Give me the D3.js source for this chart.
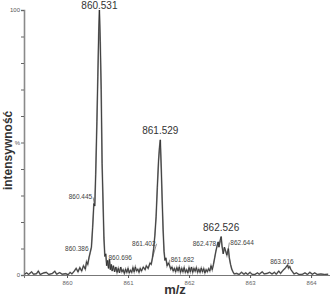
<!DOCTYPE html>
<html>
<head>
<meta charset="utf-8">
<script src="https://cdn.jsdelivr.net/npm/d3@7"></script>
<style>
  html, body { margin: 0; padding: 0; background: #fff; }
  svg { display: block; }
</style>
</head>
<body>
<div id="chart"></div>
<script>
// spectrum profile, m/z and relative intensity (%)
var mzValues = [
  859.30, 859.34, 859.37, 859.42, 859.45, 859.50, 859.53, 859.56, 859.62, 859.66,
  859.70, 859.76, 859.80, 859.83, 859.88, 859.92, 859.98, 860.02, 860.05, 860.08,
  860.12, 860.15, 860.18, 860.21, 860.24, 860.27, 860.30, 860.32, 860.34, 860.36,
  860.38, 860.40, 860.42, 860.44, 860.455, 860.47, 860.49, 860.505, 860.52, 860.531,
  860.545, 860.56, 860.575, 860.59, 860.605, 860.62, 860.635, 860.65, 860.665, 860.68,
  860.696, 860.71, 860.725, 860.74, 860.76, 860.78, 860.80, 860.82, 860.84, 860.86,
  860.88, 860.90, 860.92, 860.94, 860.96, 860.98, 861.00, 861.02, 861.04, 861.06,
  861.08, 861.10, 861.12, 861.14, 861.16, 861.18, 861.20, 861.22, 861.25, 861.28,
  861.30, 861.33, 861.36, 861.38, 861.40, 861.42, 861.44, 861.46, 861.48, 861.50,
  861.515, 861.529, 861.545, 861.56, 861.575, 861.59, 861.605, 861.62, 861.64, 861.66,
  861.682, 861.70, 861.72, 861.74, 861.76, 861.78, 861.80, 861.82, 861.84, 861.86,
  861.88, 861.90, 861.92, 861.94, 861.96, 861.98, 862.00, 862.02, 862.04, 862.06,
  862.08, 862.10, 862.12, 862.14, 862.16, 862.18, 862.20, 862.22, 862.24, 862.26,
  862.28, 862.30, 862.32, 862.34, 862.36, 862.38, 862.40, 862.42, 862.44, 862.46,
  862.478, 862.49, 862.51, 862.526, 862.54, 862.56, 862.58, 862.60, 862.62, 862.644,
  862.66, 862.68, 862.70, 862.72, 862.74, 862.78, 862.82, 862.86, 862.90, 862.93,
  862.96, 863.00, 863.03, 863.08, 863.12, 863.15, 863.20, 863.23, 863.28, 863.32,
  863.36, 863.40, 863.43, 863.47, 863.50, 863.54, 863.57, 863.59, 863.616, 863.63,
  863.65, 863.67, 863.69, 863.72, 863.76, 863.80, 863.86, 863.90, 863.94, 863.98,
  864.02, 864.06, 864.10, 864.16, 864.22, 864.28
]
var intensityValues = [
  0.3, 0.8, 0.2, 1.2, 0.3, 0.5, 1.5, 0.2, 0.8, 1.0,
  0.2, 0.6, 1.4, 0.3, 0.9, 0.3, 0.5, 0.1, 1.0, 0.4,
  1.5, 2.5, 1.2, 2.8, 1.5, 3.5, 2.2, 5.0, 4.0, 6.5,
  8.5, 10.5, 18, 27, 26, 38, 58, 75, 92, 100,
  88, 70, 42, 28, 14, 7, 8, 3.5, 5.5, 2.5,
  6, 2, 4, 1.5, 3.5, 1.2, 3.0, 1.0, 2.5, 0.8,
  3.0, 1.2, 2.0, 0.6, 2.2, 1.0, 2.5, 0.8, 1.8, 1.0,
  2.8, 1.2, 3.0, 1.5, 2.2, 1.0, 2.5, 1.5, 3.0, 2.0,
  3.5, 2.5, 4.5, 4.0, 6.5, 10, 15, 22, 33, 43,
  48, 51, 40, 28, 17, 9, 5.5, 6.5, 3.5, 4.5,
  3.5, 2.2, 3.0, 1.5, 2.5, 1.2, 2.8, 1.5, 3.0, 1.0,
  2.5, 1.2, 2.8, 1.0, 2.0, 0.8, 2.8, 1.2, 3.0, 1.0,
  2.5, 1.4, 2.8, 1.0, 2.2, 1.0, 2.6, 1.2, 2.4, 0.8,
  2.0, 1.2, 2.4, 1.5, 3.5, 2.0, 4.0, 6.5, 9, 11,
  12.5, 10.5, 13, 14.5, 11, 8, 10.5, 9, 7.5, 10,
  6.5, 4.0, 2.2, 1.2, 0.4, 0.6, 0.2, 1.0, 0.3, 0.8,
  0.2, 1.0, 0.3, 0.2, 0.8, 0.3, 1.2, 0.4, 0.6, 1.0,
  0.4, 1.0, 0.3, 1.5, 0.6, 1.8, 2.4, 3.0, 3.8, 2.6,
  3.2, 2.0, 1.4, 0.4, 0.8, 0.2, 0.3, 0.8, 0.2, 1.0,
  0.3, 0.8, 0.2, 0.4, 0.2, 0.3
]

// annotated peaks
var majorPeaks = ['860.531', '861.529', '862.526']
var majorMz = [860.531, 861.529, 862.526]
var majorIntensity = [100, 51, 14.5]

var minorPeaks = ['860.445', '860.386', '860.696', '861.402', '861.682', '862.478', '862.644', '863.616']
var minorMz = [860.445, 860.386, 860.696, 861.402, 861.682, 862.478, 862.644, 863.616]
var minorIntensity = [27, 8.5, 6, 6.5, 3.5, 12.5, 10, 3.8]

var xTicks = [860, 861, 862, 863, 864]
var yTicks = [0, 10, 20, 30, 40, 50, 60, 70, 80, 90, 100]
var yTickLabels = {0: '0', 50: '%', 100: '100'}

var width = 330
var height = 298
var margin = {top: 8, right: 0, bottom: 23, left: 24}
var font = 'Arial, "Liberation Sans", sans-serif'

var svg = d3.select('#chart').append('svg')
  .attr('width', width)
  .attr('height', height)

var x = d3.scaleLinear()
  .domain([859.295, 864.31])
  .range([margin.left, width - margin.right])

var y = d3.scaleLinear()
  .domain([0, 100])
  .range([height - margin.bottom, margin.top + 2])

// y axis
var yAxis = d3.axisLeft(y)
  .tickValues(yTicks)
  .tickSize(3)
  .tickFormat(function(d){ return yTickLabels[d] || '' })

var gy = svg.append('g')
  .attr('transform', 'translate(' + margin.left + ',0)')
  .call(yAxis)
gy.select('.domain').attr('stroke', '#8a8a8a').attr('stroke-width', 1.6)
gy.selectAll('.tick line').attr('stroke', '#666')
gy.selectAll('.tick text')
  .attr('font-family', font)
  .attr('font-size', 6)
  .attr('fill', '#555')
  .attr('x', -4)

// x axis
var xAxis = d3.axisBottom(x)
  .tickValues(xTicks)
  .tickSize(3)
  .tickFormat(d3.format('d'))

var gx = svg.append('g')
  .attr('transform', 'translate(0,' + (height - margin.bottom) + ')')
  .call(xAxis)
gx.select('.domain').attr('stroke', '#777').attr('stroke-width', 1)
gx.selectAll('.tick line').attr('stroke', '#555')
gx.selectAll('.tick text')
  .attr('font-family', font)
  .attr('font-size', 6)
  .attr('fill', '#666')
  .attr('y', 6)

// axis titles
svg.append('text')
  .attr('x', x(861.77))
  .attr('y', height - 4)
  .attr('text-anchor', 'middle')
  .attr('font-family', font)
  .attr('font-weight', 'bold')
  .attr('font-size', 13)
  .attr('fill', '#333')
  .text('m/z')

svg.append('text')
  .attr('transform', 'translate(12,' + y(47) + ') rotate(-90)')
  .attr('text-anchor', 'middle')
  .attr('font-family', font)
  .attr('font-weight', 'bold')
  .attr('font-size', 12)
  .attr('fill', '#333')
  .text('intensywność')

// spectrum trace
var points = mzValues.map(function(m, i){ return [m, intensityValues[i]] })

var line = d3.line()
  .x(function(d){ return x(d[0]) })
  .y(function(d){ return y(d[1]) })

svg.append('path')
  .datum(points)
  .attr('d', line)
  .attr('fill', 'none')
  .attr('stroke', '#8a8a8a')
  .attr('stroke-width', 1.6)

svg.append('path')
  .datum(points)
  .attr('d', line)
  .attr('fill', 'none')
  .attr('stroke', '#222')
  .attr('stroke-width', 0.7)

// major labels, centred above the peak
var majorGap = [1, 6, 6]
for(var i = 0; i < majorPeaks.length; i++){
  svg.append('text')
    .attr('x', x(majorMz[i]))
    .attr('y', y(majorIntensity[i]) - majorGap[i])
    .attr('text-anchor', 'middle')
    .attr('font-family', font)
    .attr('font-size', 10)
    .attr('fill', '#333')
    .text(majorPeaks[i])
}

// minor labels with a short leader to the point
// label offset from its point: [dx, dy, anchor]
var minorPlace = [
  [-2, -4, 'end'],
  [-2, -1, 'end'],
  [-1, 1, 'start'],
  [3, -12, 'end'],
  [1, -4, 'start'],
  [-2, 4, 'end'],
  [2, -4, 'start'],
  [6, -1, 'end']
]
for(var j = 0; j < minorPeaks.length; j++){
  var mx = x(minorMz[j])
  var my = y(minorIntensity[j])
  var p = minorPlace[j]
  var tx = mx + p[0]
  var ty = my + p[1]
  if(Math.abs(p[1]) > 3){
    svg.append('path')
      .attr('d', 'M' + mx + ',' + my + 'L' + (tx + (p[2] === 'end' ? 1 : -1)) + ',' + (ty - 2))
      .attr('stroke', '#444')
      .attr('stroke-width', 0.6)
  }
  svg.append('text')
    .attr('x', tx)
    .attr('y', ty)
    .attr('text-anchor', p[2])
    .attr('font-family', font)
    .attr('font-size', 6.5)
    .attr('fill', '#444')
    .text(minorPeaks[j])
}
</script>
</body>
</html>
